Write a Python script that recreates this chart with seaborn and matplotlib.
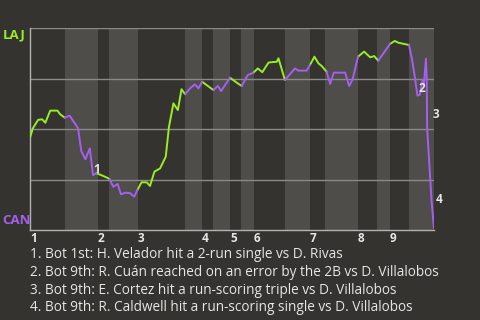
import matplotlib
matplotlib.use("Agg")
import matplotlib.pyplot as plt
import numpy as np
import pandas as pd
import seaborn as sns

# ---- data ----
progress = [0.0, 0.7, 2.0, 3.0, 3.8, 5.0, 6.8, 7.4, 8.6, 9.8, 11.1, 11.9, 12.7, 13.7,
            14.8, 15.6, 16.4, 17.6, 19.1, 19.7, 20.6, 21.7, 22.5, 23.7, 24.8, 25.8,
            26.6, 27.6, 28.9, 29.7, 30.8, 32.2, 33.6, 34.4, 35.5, 36.6, 37.5, 38.4,
            39.6, 40.8, 41.7, 42.6, 44.3, 45.4, 46.5, 47.3, 49.5, 51.2, 52.4, 53.9,
            55.3, 56.4, 57.5, 59.0, 59.4, 61.1, 61.5, 63.1, 65.6, 66.4, 68.5, 69.3,
            70.4, 71.4, 72.2, 73.4, 74.3, 75.2, 78.0, 79.0, 79.8, 81.2, 82.7, 84.2,
            85.2, 86.2, 89.1, 90.3, 91.2, 93.8, 94.5, 95.3, 95.9, 96.5, 97.2, 97.5,
            98.0, 98.2, 98.3, 98.8, 99.4, 100.0]
wp_laj = [45.7, 50.3, 54.5, 54.8, 53.1, 59.1, 59.1, 57.4, 55.6, 56.6, 52.8, 50.3, 39.1,
          35.0, 40.4, 27.2, 28.1, 27.2, 25.9, 25.2, 21.4, 22.8, 17.7, 18.5, 18.2, 16.5,
          19.8, 23.6, 23.6, 21.8, 28.9, 30.5, 36.3, 51.1, 62.7, 59.4, 69.7, 67.2, 70.1,
          72.1, 70.1, 73.4, 70.9, 69.3, 71.3, 68.8, 75.4, 72.9, 71.3, 76.7, 77.9, 80.0,
          78.1, 82.8, 83.0, 83.3, 85.0, 74.3, 80.0, 78.9, 78.9, 81.7, 85.8, 82.5, 81.2,
          78.4, 72.3, 77.9, 77.9, 71.3, 74.3, 85.8, 88.3, 85.5, 86.1, 83.8, 92.1, 93.6,
          92.7, 91.6, 85.1, 75.2, 66.5, 67.0, 74.4, 71.9, 84.8, 75.2, 50.5, 34.0, 14.2,
          1.0]
top_starts = [0.0, 16.8, 26.7, 42.6, 49.5, 55.4, 69.3, 81.2, 89.1]
bot_starts = [8.7, 19.6, 38.4, 45.3, 52.2, 63.1, 73.0, 85.9, 93.8]
innings = ["1", "2", "3", "4", "5", "6", "7", "8", "9"]
teams = ["LAJ", "CAN"]
note_events = [15, 82, 88, 90]
note_marks = ["1", "2", "3", "4"]
notes = [
    "1. Bot 1st: H. Velador hit a 2-run single vs D. Rivas",
    "2. Bot 9th: R. Cuán reached on an error by the 2B vs D. Villalobos",
    "3. Bot 9th: E. Cortez hit a run-scoring triple vs D. Villalobos",
    "4. Bot 9th: R. Caldwell hit a run-scoring single vs D. Villalobos",
]

# ---- style ----
BG = "#35332f"
BAND = "#4f4d4a"
GRID = "#8c8a87"
GREEN = "#97ee27"
PURPLE = "#a55ff0"
TXT = "#e6e6e6"

sns.set_theme(style="dark")
plt.rcParams["font.family"] = ["Open Sans", "DejaVu Sans"]

fig = plt.figure(figsize=(4.8, 3.2), dpi=100, facecolor=BG)
ax = fig.add_axes([30 / 480, 90 / 320, 404 / 480, 202 / 320], facecolor=BG)

# half-inning segmentation: team batting determines colour
def batting(x):
    half = "LAJ"
    for t, b in zip(top_starts, bot_starts):
        if x >= t:
            half = "LAJ"
        if x >= b:
            half = "CAN"
    return half

rows = []
run = 0
prev_team = None
for i in range(1, len(progress)):
    mid = (progress[i - 1] + progress[i]) / 2
    team = batting(mid)
    if team != prev_team:
        run += 1
        rows.append({"x": progress[i - 1], "wp": wp_laj[i - 1], "team": team, "run": run})
        prev_team = team
    rows.append({"x": progress[i], "wp": wp_laj[i], "team": team, "run": run})
df = pd.DataFrame(rows)

# bands for bottom halves
ends = top_starts[1:] + [100.0]
for b, e in zip(bot_starts, ends):
    ax.axvspan(b, e, color=BAND, lw=0, zorder=0)

for g in [25, 50, 75, 100]:
    ax.axhline(g, color=GRID, lw=1.0, zorder=1)

sns.lineplot(data=df, x="x", y="wp", hue="team", units="run", estimator=None,
             palette={"LAJ": GREEN, "CAN": PURPLE}, linewidth=1.4, legend=False,
             sort=False, ax=ax, zorder=3)

ax.set_xlim(0, 100)
ax.set_ylim(0, 100)
ax.set_xlabel("")
ax.set_ylabel("")
ax.set_yticks([])
ax.set_xticks(top_starts)
ax.set_xticklabels(innings, fontsize=8.5, fontweight="bold", color=TXT, ha="left")
ax.tick_params(axis="x", length=0, pad=1.5)
ax.grid(False)
for s in ["top", "right"]:
    ax.spines[s].set_visible(False)
ax.spines["left"].set_color("#b5b3b0")
ax.spines["left"].set_linewidth(1.0)
ax.spines["bottom"].set_color("#b5b3b0")
ax.spines["bottom"].set_linewidth(1.0)

offsets = [(0, 4), (1, 5), (4, 10), (3, 1)]
for idx, mark, off in zip(note_events, note_marks, offsets):
    ax.annotate(mark, (progress[idx], wp_laj[idx]), xytext=off, textcoords="offset points",
                fontsize=8.5, fontweight="bold", color=TXT, ha="left", va="center", zorder=4)

fig.text(3 / 480, 1 - 35 / 320, teams[0], color=GREEN, fontsize=9.5, fontweight="bold",
         ha="left", va="center")
fig.text(2 / 480, 1 - 221 / 320, teams[1], color=PURPLE, fontsize=9.5, fontweight="bold",
         ha="left", va="center")

for k, line in enumerate(notes):
    fig.text(30 / 480, 1 - (254.5 + 17.8 * k) / 320, line, color=TXT, fontsize=9.8,
             ha="left", va="center")

fig.savefig("out.png", dpi=100, facecolor=BG)
